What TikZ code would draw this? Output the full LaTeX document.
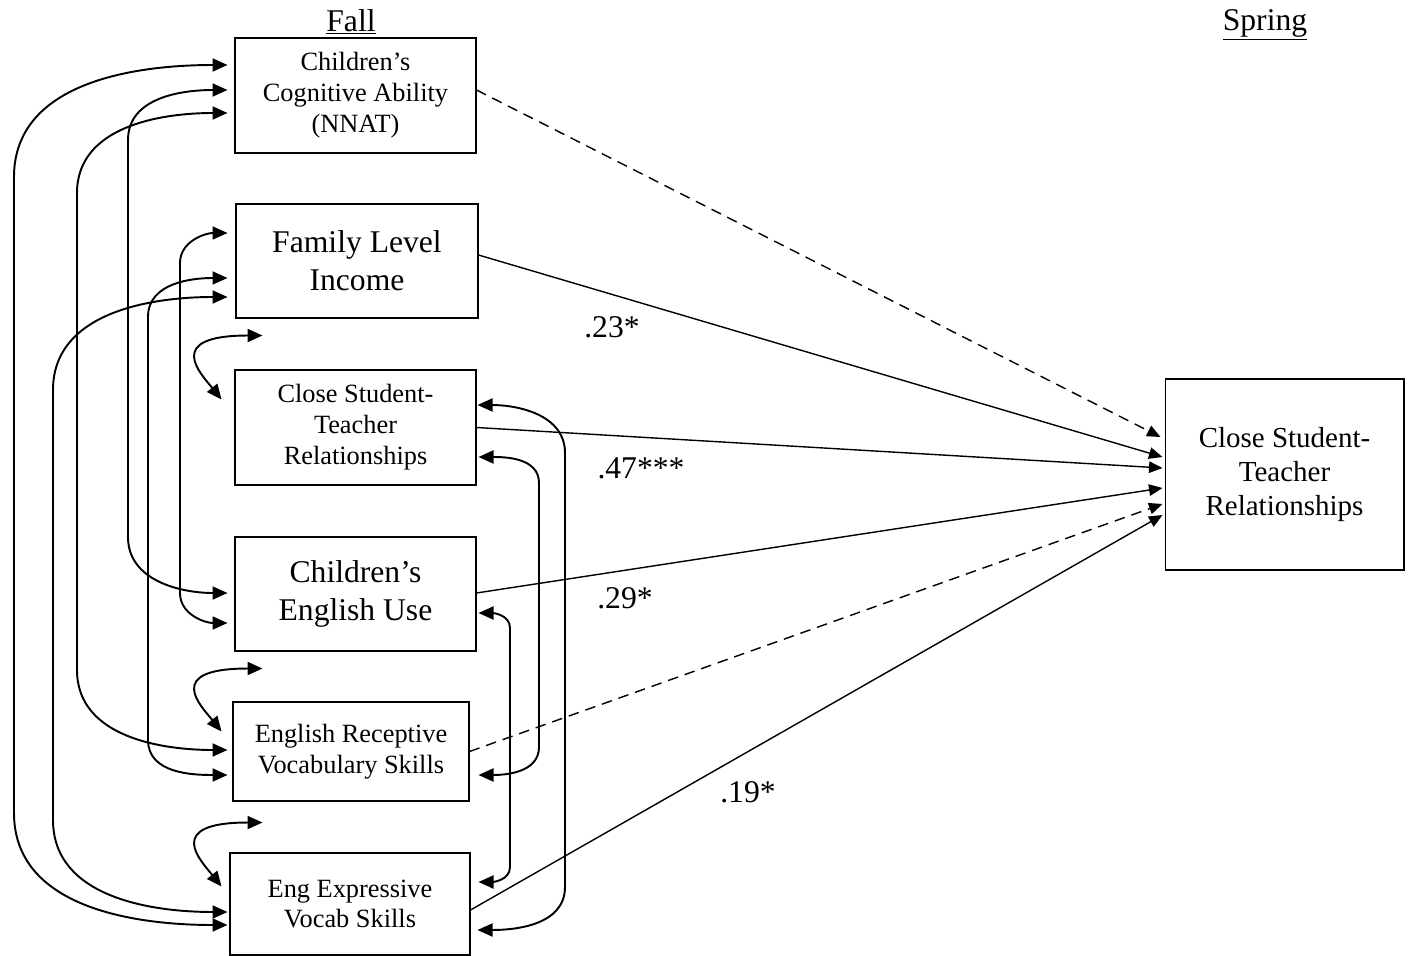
\documentclass[tikz,border=0pt]{standalone}
\usepackage{fontspec}
\setmainfont{Liberation Serif}
\usepackage{tikz}
\usetikzlibrary{arrows.meta}
\tikzset{
  varbox/.style={draw,line width=0.6pt,align=center,inner sep=2pt},
  smallbox/.style={varbox,font=\fontsize{15}{17.6}\selectfont},
  bigbox/.style={varbox,font=\fontsize{18}{21.6}\selectfont},
  outcomebox/.style={varbox,font=\fontsize{16.5}{19.4}\selectfont},
  pathline/.style={-{Triangle[length=2.7mm,width=2.3mm]},line width=0.8pt},
  nullpath/.style={pathline,dash pattern=on 6pt off 4pt},
  corrarrow/.style={{Triangle[length=3mm,width=2.6mm]}-{Triangle[length=3mm,width=2.6mm]},line width=1.1pt},
  coeflabel/.style={font=\fontsize{18}{21.6}\selectfont},
  wavelabel/.style={font=\fontsize{18}{21.6}\selectfont}
}

\begin{document}
\begin{tikzpicture}[x=0.02cm,y=-0.02cm]
\useasboundingbox (0,0) rectangle (1410,956);
\node[wavelabel] (fall) at (351,22) {\underline{Fall}};
\node[wavelabel] (spr) at (1265,25) {\underline{Spring}};
\node[smallbox,minimum width=4.82cm,minimum height=2.3cm] (nnat) at (355.5,95.5) {Children's\\Cognitive Ability\\(NNAT)};
\node[bigbox,minimum width=4.84cm,minimum height=2.28cm] (income) at (357,261) {Family Level\\Income};
\node[smallbox,minimum width=4.82cm,minimum height=2.3cm] (cstr) at (355.5,427.5) {Close Student-\\Teacher\\Relationships};
\node[bigbox,minimum width=4.82cm,minimum height=2.28cm] (enguse) at (355.5,594) {Children's\\English Use};
\node[smallbox,minimum width=4.72cm,minimum height=1.98cm] (recept) at (351,751.5) {English Receptive\\Vocabulary Skills};
\node[smallbox,minimum width=4.8cm,minimum height=2.04cm] (express) at (350,904) {Eng Expressive\\Vocab Skills};
\node[outcomebox,minimum width=4.78cm,minimum height=3.82cm] (spring) at (1284.5,474.5) {Close Student-\\Teacher\\Relationships};

\draw[nullpath] ([shift={(0,-5.5)}]nnat.east) -- ([shift={(-4,-37.5)}]spring.west);
\draw[pathline] ([shift={(0,-6)}]income.east) -- ([shift={(-2,-17.5)}]spring.west);
\draw[pathline] (cstr.east) -- ([shift={(-2,-6.5)}]spring.west);
\draw[pathline] ([shift={(0,-1)}]enguse.east) -- ([shift={(-2,13.5)}]spring.west);
\draw[nullpath] (recept.east) -- ([shift={(-2,29.5)}]spring.west);
\draw[pathline] ([shift={(0,6)}]express.east) -- ([shift={(-2,40.5)}]spring.west);
\node[coeflabel] (b1) at (612,327) {.23*};
\node[coeflabel] (b2) at (641,468) {.47***};
\node[coeflabel] (b3) at (625,598) {.29*};
\node[coeflabel] (b4) at (748,792) {.19*};

\draw[corrarrow] ([shift={(-7,-30.5)}]nnat.west) to[out=180,in=90] (14,177) -- (14,813) to[out=-90,in=180] ([shift={(-2,21)}]express.west);
\draw[corrarrow] ([shift={(-7,17.5)}]nnat.west) to[out=180,in=90] (77,193) -- (77,670) to[out=-90,in=180] ([shift={(-5,-1.5)}]recept.west);
\draw[corrarrow] ([shift={(-8,36)}]income.west) to[out=180,in=90] (53,390) -- (53,820) to[out=-90,in=180] ([shift={(-2,8)}]express.west);
\draw[corrarrow] ([shift={(-7,-5.5)}]nnat.west) to[out=180,in=90] (128,140) -- (128,537) to[out=-90,in=180] ([shift={(-7,-1)}]enguse.west);
\draw[corrarrow] ([shift={(-8,-28)}]income.west) to[out=180,in=90] (180,263) -- (180,593) to[out=-90,in=180] ([shift={(-7,29)}]enguse.west);
\draw[corrarrow] ([shift={(-8,17)}]income.west) to[out=180,in=90] (148,317) -- (148,740) to[out=-90,in=180] ([shift={(-5,23.5)}]recept.west);

\draw[corrarrow] ([shift={(1,-22.5)}]cstr.east) to[out=0,in=90] (565,453) -- (565,887) to[out=-90,in=0] ([shift={(7,26)}]express.east);
\draw[corrarrow] ([shift={(2,29.5)}]cstr.east) to[out=0,in=90] (539,483) -- (539,747) to[out=-90,in=0] ([shift={(9,23.5)}]recept.east);
\draw[corrarrow] ([shift={(2,19)}]enguse.east) to[out=0,in=90] (510,628) -- (510,867) to[out=-90,in=0] ([shift={(8,-22)}]express.east);

\draw[corrarrow] ([shift={(27,17)}]income.south west) .. controls +(-100,0) and +(-20,-25) .. ([shift={(-13,30)}]cstr.north west);
\draw[corrarrow] ([shift={(28,17)}]enguse.south west) .. controls +(-100,0) and +(-20,-25) .. ([shift={(-11,30)}]recept.north west);
\draw[corrarrow] ([shift={(30,21)}]recept.south west) .. controls +(-100,0) and +(-20,-25) .. ([shift={(-8,34)}]express.north west);
\end{tikzpicture}
\end{document}
